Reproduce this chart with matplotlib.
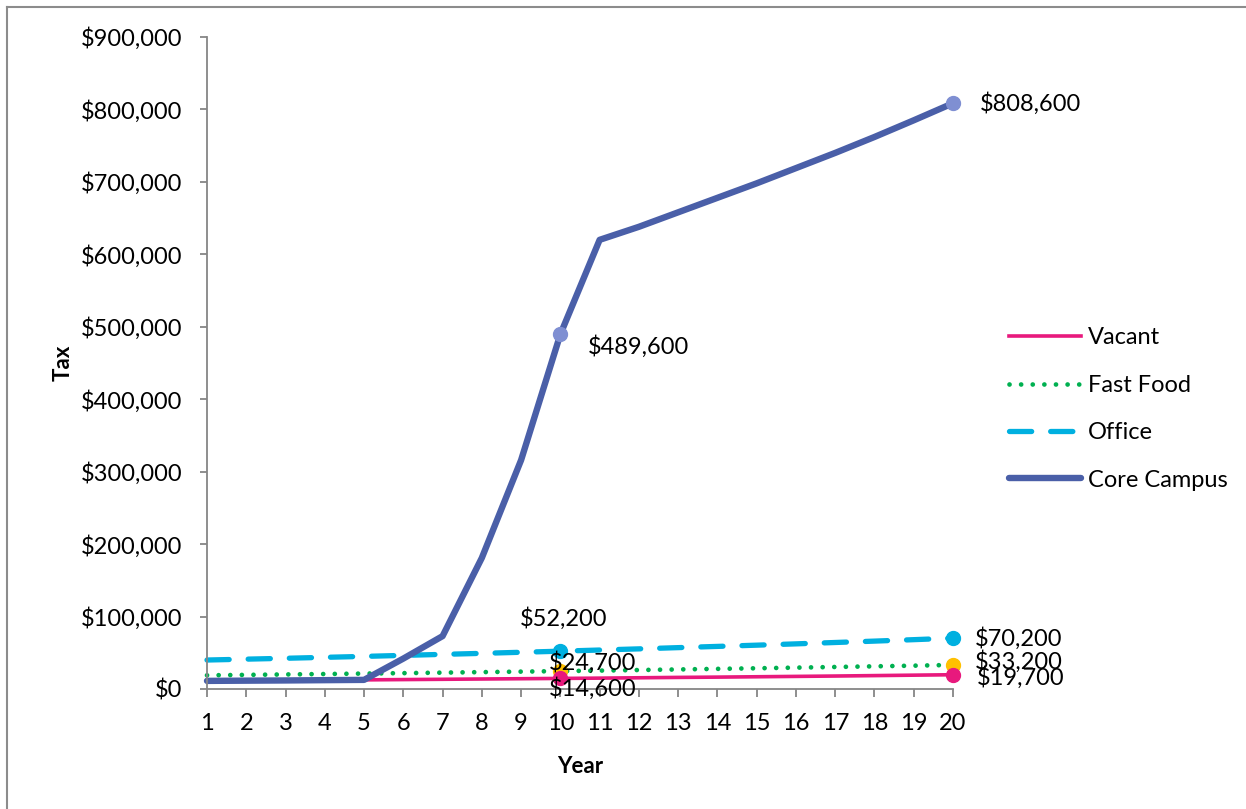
import numpy as np
import matplotlib
matplotlib.use('Agg')
import matplotlib.pyplot as plt
from matplotlib.lines import Line2D
from matplotlib.ticker import FuncFormatter

plt.rcParams['font.family'] = ['Lato', 'DejaVu Sans']

years = list(range(1, 21))
vacant = [11200, 11500, 11800, 12200, 12600, 13000, 13400, 13800, 14200, 14600,
          15000, 15500, 16000, 16400, 16900, 17400, 17900, 18500, 19100, 19700]
fast_food = [18900, 19500, 20100, 20700, 21300, 21900, 22600, 23300, 24000, 24700,
             25400, 26200, 27000, 27800, 28600, 29500, 30400, 31300, 32200, 33200]
office = [40000, 41200, 42400, 43700, 45000, 46400, 47800, 49200, 50700, 52200,
          53800, 55400, 57100, 58800, 60500, 62300, 64200, 66100, 68100, 70200]
core_campus = [11200, 11500, 11800, 12200, 12600, 42000, 73000, 181000, 316000, 489600,
               620000, 638000, 658000, 678000, 698000, 719000, 740000, 762000, 785000, 808600]

# labelled points: (series, year index, pixel offset, alignment)
labelled = [
    (core_campus, 9, (27, -12), 'left'),
    (core_campus, 19, (27, 0), 'left'),
    (office, 9, (3, 33), 'center'),
    (office, 19, (22, 0), 'left'),
    (fast_food, 9, (-12, 9), 'left'),
    (fast_food, 19, (22, 3), 'left'),
    (vacant, 9, (-12, -10), 'left'),
    (vacant, 19, (24, -3), 'left'),
]

W, H = 1246, 809
fs = 17
fig = plt.figure(figsize=(W / 100, H / 100), dpi=100)
ax = fig.add_axes([207 / W, 1 - 689 / H, (953 - 207) / W, (689 - 37) / H])

c_vac, c_ff, c_off, c_core = '#E8197D', '#00B050', '#00B0E0', '#4A5FA8'
ax.plot(years, vacant, color=c_vac, lw=2.6, label='Vacant', clip_on=False)
ax.plot(years, fast_food, color=c_ff, lw=3.4, ls=(0, (0.01, 2.45)), dash_capstyle='round',
        label='Fast Food', clip_on=False)
ax.plot(years, office, color=c_off, lw=3.8, ls=(0, (4.2, 3.6)), dash_capstyle='round',
        label='Office', clip_on=False)
ax.plot(years, core_campus, color=c_core, lw=4.6, solid_capstyle='round',
        label='Core Campus', clip_on=False)

marker_colors = {id(vacant): c_vac, id(fast_food): '#FFC000',
                 id(office): c_off, id(core_campus): '#7F8FD2'}
for series, i, off, ha in labelled:
    ax.plot(years[i], series[i], 'o', ms=10, color=marker_colors[id(series)],
            clip_on=False, zorder=5)

for series, i, off, ha in labelled:
    ax.annotate('${:,}'.format(series[i]), (years[i], series[i]), xytext=off,
                textcoords='offset pixels', ha=ha, va='center', fontsize=fs,
                zorder=6, annotation_clip=False)

ax.set_xlim(1, 20)
ax.set_ylim(0, 900000)
ax.set_xticks(years)
ax.set_yticks(np.arange(0, 900001, 100000))
ax.yaxis.set_major_formatter(FuncFormatter(lambda v, p: '${:,.0f}'.format(v)))
for s in ['top', 'right']:
    ax.spines[s].set_visible(False)
for s in ['left', 'bottom']:
    ax.spines[s].set_color('#868686')
    ax.spines[s].set_linewidth(1.3)
ax.tick_params(axis='y', direction='out', length=5, width=1.3, color='#868686',
               pad=13, labelsize=fs)
ax.tick_params(axis='x', direction='out', length=6, width=1.3, color='#868686',
               pad=11, labelsize=fs)
ax.set_xlabel('Year', fontsize=16, fontweight='bold', labelpad=16)
ax.set_ylabel('Tax', fontsize=16, fontweight='bold', labelpad=5)

ax.legend(loc='center left', bbox_to_anchor=(997 / W, 1 - 409 / H),
          bbox_transform=fig.transFigure, frameon=False, fontsize=fs,
          handlelength=3.05, handletextpad=0.3, labelspacing=1.12, borderpad=0)

# chart frame (left and top edges)
fig.add_artist(Line2D([7 / W, 7 / W], [0, 1 - 7 / H], transform=fig.transFigure,
                      color='#8c8c8c', lw=1.5))
fig.add_artist(Line2D([7 / W, 1], [1 - 7 / H, 1 - 7 / H], transform=fig.transFigure,
                      color='#8c8c8c', lw=1.5))

plt.savefig('out.png', dpi=100)
